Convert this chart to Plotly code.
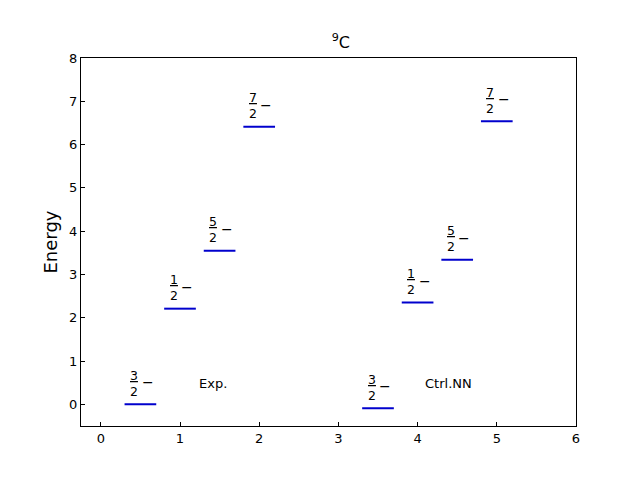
import plotly.graph_objects as go

# data
exp_labels = ["3", "1", "5", "7"]
exp_x = [0.5, 1.0, 1.5, 2.0]
exp_E = [0.0, 2.21, 3.55, 6.41]
nn_labels = ["3", "1", "5", "7"]
nn_x = [3.5, 4.0, 4.5, 5.0]
nn_E = [-0.09, 2.35, 3.34, 6.54]
half_width = 0.2
group_names = ["Exp.", "Ctrl.NN"]
group_x = [1.22, 4.07]
group_y = [0.48, 0.48]

fig = go.Figure()
annotations = []
FONT = "DejaVu Sans"

def add_levels(xs, Es, labels):
    for xc, e, lab in zip(xs, Es, labels):
        fig.add_trace(go.Scatter(x=[xc - half_width, xc + half_width], y=[e, e],
                                 mode="lines", line=dict(color="#0000cd", width=2),
                                 showlegend=False, hoverinfo="skip"))
        annotations.append(dict(x=xc - half_width + 0.12, y=e, yshift=21, xref="x", yref="y",
                                text="<u>" + lab + "</u><br>2", showarrow=False,
                                font=dict(family=FONT, size=12.5, color="black"),
                                xanchor="center", yanchor="middle"))
        annotations.append(dict(x=xc - half_width + 0.29, y=e, yshift=22, xref="x", yref="y",
                                text="−", showarrow=False,
                                font=dict(family=FONT, size=14, color="black"),
                                xanchor="center", yanchor="middle"))

add_levels(exp_x, exp_E, exp_labels)
add_levels(nn_x, nn_E, nn_labels)

for name, gx, gy in zip(group_names, group_x, group_y):
    annotations.append(dict(x=gx, y=gy, xref="x", yref="y", text=name, showarrow=False,
                            font=dict(family=FONT, size=13, color="black"),
                            xanchor="left", yanchor="middle"))

axis_common = dict(showline=True, linecolor="black", linewidth=1, mirror=True,
                   ticks="inside", ticklen=4, tickwidth=1, tickcolor="black",
                   showgrid=False, zeroline=False,
                   tickfont=dict(family=FONT, size=13, color="black"))

fig.update_layout(
    width=640, height=480,
    paper_bgcolor="white", plot_bgcolor="white",
    margin=dict(l=73, r=72, t=50, b=62),
    title=dict(text="<sup>9</sup>C", x=0.52, xanchor="center", yref="container",
               y=0.929, yanchor="middle",
               font=dict(family=FONT, size=16, color="black")),
    xaxis=dict(range=[-0.25, 6], tickvals=[0, 1, 2, 3, 4, 5, 6], **axis_common),
    yaxis=dict(range=[-0.5, 8], tickvals=[0, 1, 2, 3, 4, 5, 6, 7, 8],
               title=dict(text="Energy", font=dict(family=FONT, size=18, color="black"), standoff=6),
               **axis_common),
    annotations=annotations,
)

fig.write_html("out.html")
